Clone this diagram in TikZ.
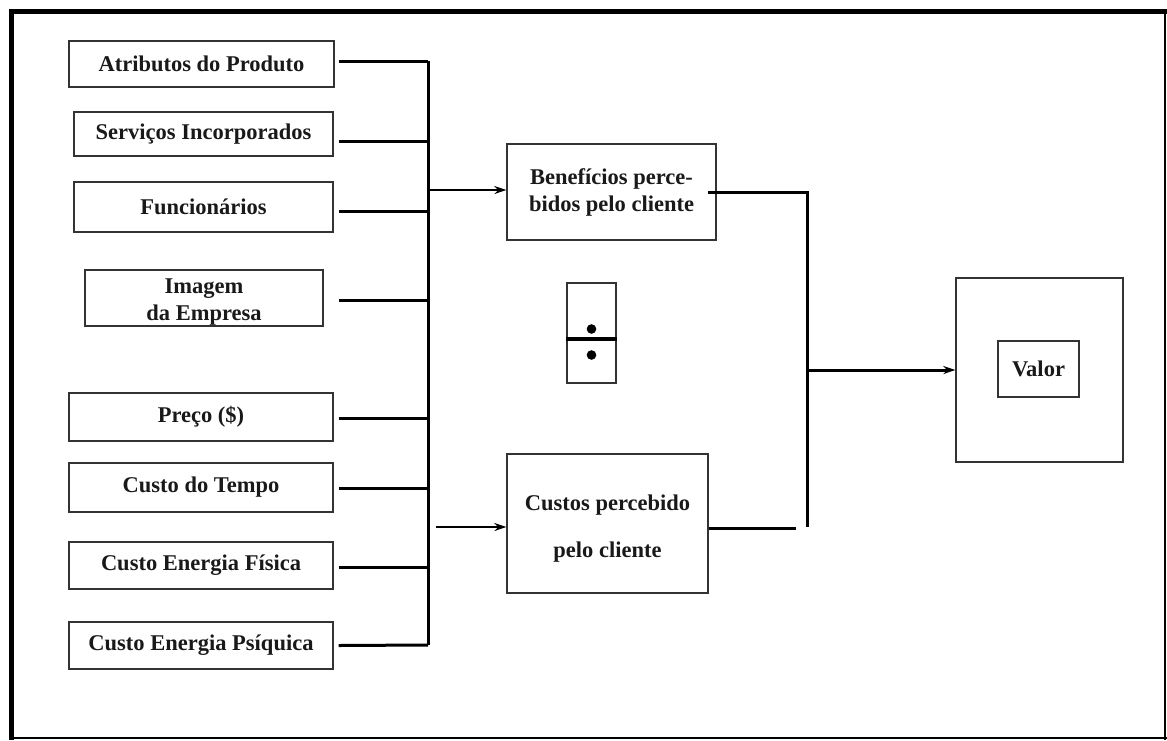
\documentclass[tikz,border=0pt]{standalone}
\usepackage{fontspec}
\setmainfont{Liberation Serif}
\usetikzlibrary{arrows.meta}
\tikzset{
  box/.style={draw=black!80, line width=1.3pt, inner sep=0pt, align=center,
    font=\fontsize{22.5}{27}\selectfont\bfseries, text=black!90},
  txt/.style={inner sep=0pt, align=center,
    font=\fontsize{22.5}{27}\selectfont\bfseries, text=black!90},
  conn/.style={line width=3pt, black},
  arr/.style={line width=2.2pt, black, -{Stealth[length=12pt,width=8pt]}},
}
\begin{document}
\begin{tikzpicture}[x=1pt,y=-1pt]
\useasboundingbox (0,0) rectangle (1167,740);
% outer frame
\draw[line width=5pt] (11.5,9) -- (11.5,740);
\draw[line width=5pt] (9,11.5) -- (1167,11.5);
\draw[line width=2.2pt] (1165,11.5) -- (1165,740);
\draw[line width=2.2pt] (11.5,738) -- (1167,738);

% left boxes
\node[box, minimum width=265, minimum height=46] (a1) at (201.5,64) {Atributos do Produto};
\node[box, minimum width=259, minimum height=44] (a2) at (203.5,134) {Serviços Incorporados};
\node[box, minimum width=259, minimum height=50] (a3) at (203.5,207) {Funcionários};
\node[box, minimum width=238, minimum height=56] (a4) at (204,298) {};
\node[txt] (a4t) at ([yshift=-4pt]a4.center) {Imagem\\da Empresa};
\node[box, minimum width=264, minimum height=48] (c1) at (201,417) {Preço (\$)};
\node[box, minimum width=264, minimum height=49] (c2) at (201,487.5) {Custo do Tempo};
\node[box, minimum width=264, minimum height=47] (c3) at (201,565.5) {Custo Energia Física};
\node[box, minimum width=264, minimum height=47] (c4) at (201,645.5) {Custo Energia Psíquica};

% bus
\coordinate (busT) at (428,61);
\coordinate (busB) at (428,645);
\draw[conn] (busT) -- (busB);
\draw[conn] ([shift={(4,-3)}]a1.east) coordinate (t1) -- (t1 -| busT);
\draw[conn] ([shift={(5,7)}]a2.east) coordinate (t2) -- (t2 -| busT);
\draw[conn] ([shift={(5,4)}]a3.east) coordinate (t3) -- (t3 -| busT);
\draw[conn] ([shift={(15,2)}]a4.east) coordinate (t4) -- (t4 -| busT);
\draw[conn] ([shift={(5,1)}]c1.east) coordinate (t5) -- (t5 -| busT);
\draw[conn] ([shift={(5,0.5)}]c2.east) coordinate (t6) -- (t6 -| busT);
\draw[conn] ([shift={(5,1.5)}]c3.east) coordinate (t7) -- (t7 -| busT);
\draw[conn] ([shift={(5,0)}]c4.east) coordinate (t8) -- (busB);

% middle boxes
\node[box, minimum width=209, minimum height=96] (ben) at (611.5,192) {Benefícios perce-\\bidos pelo cliente};
\node[box, minimum width=201, minimum height=139] (cus) at (607.5,523.5) {};
\node[txt, font=\fontsize{22.5}{47}\selectfont\bfseries] (cust) at ([yshift=-5pt]cus.center) {Custos percebido\\pelo cliente};

\draw[arr] ([yshift=2pt]ben.west -| busT) -- ([yshift=2pt]ben.west);
\draw[arr] ([shift={(-70,3.5)}]cus.west) -- ([shift={(0,3.5)}]cus.west);

% division symbol
\node[draw=black!80, line width=1.3pt, minimum width=49, minimum height=100, inner sep=0pt] (sym) at (591.5,333) {};
\draw[line width=4.5pt] ([yshift=-6pt]sym.west) -- ([yshift=-6pt]sym.east);
\fill ([yshift=4pt]sym.center) circle (4.8);
\fill ([yshift=-22pt]sym.center) circle (4.8);

% right connectors
\coordinate (jT) at (807,192);
\coordinate (jB) at (807,527);
\draw[conn] ([xshift=-9pt]ben.east) -- (jT) -- (jB);
\draw[conn] ([shift={(0,4.5)}]cus.east) coordinate (u) -- ([xshift=-11pt]u -| jB);

% valor
\node[draw=black!80, line width=1.3pt, minimum width=167, minimum height=184, inner sep=0pt] (vout) at (1039.5,370) {};
\node[box, minimum width=81, minimum height=56] (val) at (1038.5,369) {Valor};
\draw[arr, line width=3pt] (vout.west -| jT) -- (vout.west);
\end{tikzpicture}
\end{document}
